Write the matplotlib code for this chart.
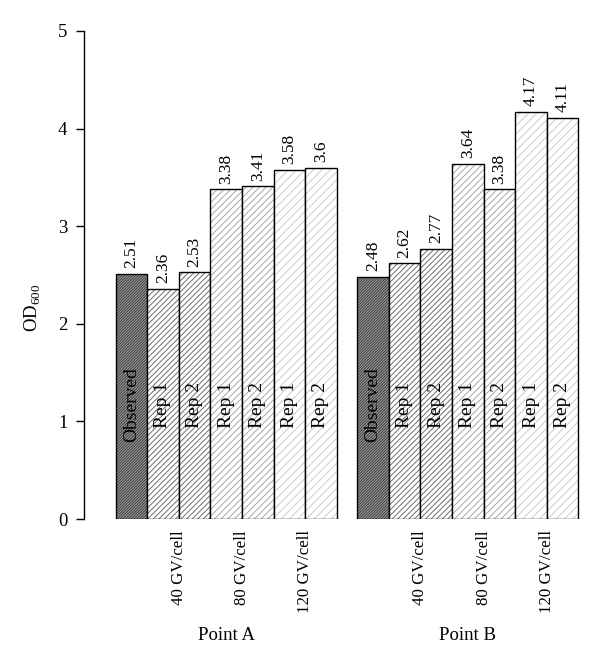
import numpy as np
import matplotlib
matplotlib.use('Agg')
import matplotlib.pyplot as plt

plt.rcParams['font.family'] = ['Liberation Serif', 'DejaVu Serif']
plt.rcParams['mathtext.fontset'] = 'custom'
plt.rcParams['mathtext.rm'] = 'Liberation Serif'
plt.rcParams['hatch.linewidth'] = 0.7

groups = ['Point A', 'Point B']
bar_labels = ['Observed', 'Rep 1', 'Rep 2', 'Rep 1', 'Rep 2', 'Rep 1', 'Rep 2']
doses = ['40 GV/cell', '80 GV/cell', '120 GV/cell']
point_a = [2.51, 2.36, 2.53, 3.38, 3.41, 3.58, 3.6]
point_b = [2.48, 2.62, 2.77, 3.64, 3.38, 4.17, 4.11]

# fill, hatch colour, hatch pattern per bar
faces = ['#a0a0a0', 'white', 'white', 'white', 'white', 'white', 'white']
hcols = ['#3a3a3a', '#6e6e6e', '#6e6e6e', '#a8a8a8', '#a8a8a8', '#cccccc', '#cccccc']
hatches = ['/' * 12, '/' * 6, '/' * 6, '/' * 5, '/' * 5, '////', '////']

starts = [1.0, 8.65]

fig = plt.figure(figsize=(6, 6.65), dpi=100)
ax = fig.add_axes([0.14, 0.2195, 0.832, 0.7339])

for g, vals in enumerate([point_a, point_b]):
    x = starts[g] + np.arange(len(vals))
    for i in range(len(vals)):
        ax.bar(x[i], vals[i], width=1, align='edge', color=faces[i],
               edgecolor=hcols[i], hatch=hatches[i], linewidth=0)
        ax.bar(x[i], vals[i], width=1, align='edge', fill=False,
               edgecolor='black', linewidth=1)
        ax.annotate(str(vals[i]), (x[i] + 0.5, vals[i]), xytext=(0, 4),
                    textcoords='offset points', rotation=90,
                    ha='center', va='bottom', fontsize=12.5)
        ax.text(x[i] + 0.5, 1.17, bar_labels[i], rotation=90,
                ha='center', va='center', fontsize=14)
    for k, d in enumerate(doses):
        ax.annotate(d, (starts[g] + 2 + 2 * k, 0), xytext=(0, -8),
                    textcoords='offset points', rotation=90,
                    ha='center', va='top', fontsize=12.2, annotation_clip=False)
    ax.annotate(groups[g], (starts[g] + 3.5, 0), xytext=(0, -78),
                textcoords='offset points', ha='center', va='top',
                fontsize=13.5, annotation_clip=False)

ax.set_xlim(0, 15.8)
ax.set_ylim(0, 5)
ax.set_yticks([0, 1, 2, 3, 4, 5])
ax.tick_params(axis='y', length=6, width=1, pad=6, labelsize=13.5)
ax.set_xticks([])
for s in ['top', 'right', 'bottom']:
    ax.spines[s].set_visible(False)
ax.spines['left'].set_linewidth(1)
ax.spines['left'].set_bounds(0, 5)

fig.text(33 / 600, 1 - 308 / 665, 'OD$_{600}$', rotation=90,
         ha='center', va='center', fontsize=13.5)

fig.savefig('out.png', dpi=100)
